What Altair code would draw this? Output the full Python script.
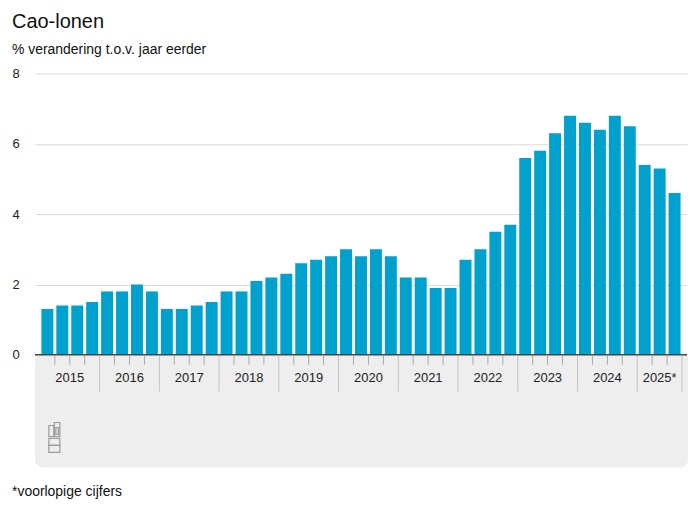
import altair as alt
import pandas as pd

# ---- data ----
years = [2015, 2016, 2017, 2018, 2019, 2020, 2021, 2022, 2023, 2024, 2025]
quarters_per_year = [4, 4, 4, 4, 4, 4, 4, 4, 4, 4, 3]
year_labels = ["2015", "2016", "2017", "2018", "2019", "2020", "2021", "2022", "2023", "2024", "2025*"]
values = [
    1.3, 1.4, 1.4, 1.5,   # 2015
    1.8, 1.8, 2.0, 1.8,   # 2016
    1.3, 1.3, 1.4, 1.5,   # 2017
    1.8, 1.8, 2.1, 2.2,   # 2018
    2.3, 2.6, 2.7, 2.8,   # 2019
    3.0, 2.8, 3.0, 2.8,   # 2020
    2.2, 2.2, 1.9, 1.9,   # 2021
    2.7, 3.0, 3.5, 3.7,   # 2022
    5.6, 5.8, 6.3, 6.8,   # 2023
    6.6, 6.4, 6.8, 6.5,   # 2024
    5.4, 5.3, 4.6,        # 2025
]
y_ticks = [0, 2, 4, 6, 8]
title_text = "Cao-lonen"
subtitle_text = "% verandering t.o.v. jaar eerder"
footnote_text = "*voorlopige cijfers"

# ---- tables built from the lists ----
rows = []
for yr, nq in zip(years, quarters_per_year):
    for q in range(1, nq + 1):
        rows.append({"jaar": yr, "kwartaal": f"{yr} K{q}", "t": yr + (q - 0.5) / 4})
bars_df = pd.DataFrame(rows)
bars_df["waarde"] = values

label_df = pd.DataFrame({
    "label": year_labels,
    "t": [yr + nq / 8 for yr, nq in zip(years, quarters_per_year)],
})
sep_df = pd.DataFrame({"t": [yr + nq / 4 for yr, nq in zip(years, quarters_per_year)]})
tick_df = pd.DataFrame({"t": [yr + k / 4 for yr, nq in zip(years, quarters_per_year) for k in range(1, nq)]})

x_end = years[-1] + quarters_per_year[-1] / 4
xscale = alt.Scale(domain=[years[0], x_end], nice=False, zero=False)
yscale = alt.Scale(domain=[0, 8], nice=False)

W, H = 654, 282
FONT = "Liberation Sans"
BLUE = "#00a1cd"

yaxis = alt.Axis(
    values=y_ticks, title=None, domain=False, ticks=False, tickSize=0,
    labelAlign="left", labelPadding=23, labelFontSize=13, labelFont=FONT,
    labelColor="#222222", gridColor="#d9d9d9", gridWidth=1,
)

one = pd.DataFrame({"a": [0]})

panel = alt.Chart(one).mark_rect(
    color="#eeeeee", cornerRadiusBottomLeft=8, cornerRadiusBottomRight=8
).encode(x=alt.value(0), x2=alt.value(W + 1), y=alt.value(H), y2=alt.value(H + 113))

bars = alt.Chart(bars_df).mark_bar(width=12, color=BLUE).encode(
    x=alt.X("t:Q", scale=xscale, axis=None),
    y=alt.Y("waarde:Q", scale=yscale, axis=yaxis),
    tooltip=["kwartaal:N", "waarde:Q"],
)

zero = alt.Chart(pd.DataFrame({"waarde": [0]})).mark_rule(color="#444444", strokeWidth=1.5).encode(
    y=alt.Y("waarde:Q", scale=yscale, axis=yaxis), x=alt.value(0), x2=alt.value(W)
)

qticks = alt.Chart(tick_df).mark_rule(color="#a8a8a8", strokeWidth=1).encode(
    x=alt.X("t:Q", scale=xscale, axis=None), y=alt.value(H + 1), y2=alt.value(H + 10)
)

seps = alt.Chart(sep_df).mark_rule(color="#c4c4c4", strokeWidth=1).encode(
    x=alt.X("t:Q", scale=xscale, axis=None), y=alt.value(H + 1), y2=alt.value(H + 37)
)

ylabels = alt.Chart(label_df).mark_text(
    font=FONT, fontSize=13, color="#222222", baseline="middle", align="center"
).encode(x=alt.X("t:Q", scale=xscale, axis=None), y=alt.value(H + 23), text="label:N")


def outline(x0, x1, y0, y1):
    return alt.Chart(one).mark_rect(fill=None, stroke="#9a9a9a", strokeWidth=1.2).encode(
        x=alt.value(x0), x2=alt.value(x1), y=alt.value(y0), y2=alt.value(y1)
    )


# CBS logo (decorative outline)
logo = [
    outline(14, 19, 353, 364),
    outline(19.5, 25, 350, 364),
    outline(21, 23.5, 355, 362),
    outline(14, 25, 366, 373),
    outline(14, 25, 373, 380),
]


def label(txt, size, yy):
    return alt.Chart(one).mark_text(
        font=FONT, color="#111111", align="left", baseline="alphabetic", fontSize=size, text=txt
    ).encode(x=alt.value(-23), y=alt.value(yy))


texts = [
    label(title_text, 20, -46),
    label(subtitle_text, 14, -20),
    label(footnote_text, 14, 424),
]

chart = alt.layer(panel, bars, zero, qticks, seps, ylabels, *logo, *texts).properties(
    width=W, height=H,
    autosize=alt.AutoSizeParams(type="none"),
    padding={"left": 27, "top": 65, "right": 5, "bottom": 150},
).configure_view(stroke=None)

chart.save("out.html", embed_options={"renderer": "svg", "actions": False})
